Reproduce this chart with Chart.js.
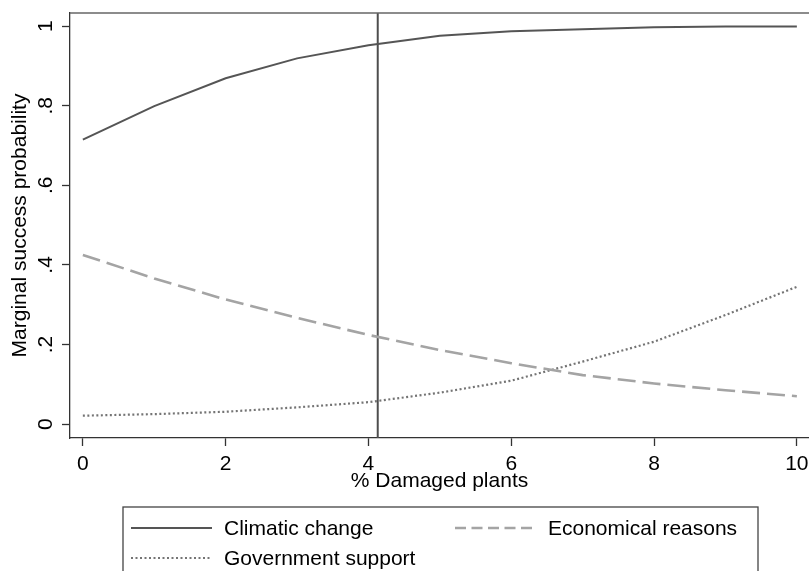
<!DOCTYPE html>
<html><head><meta charset="utf-8">
<script src="https://cdn.jsdelivr.net/npm/chart.js@4/dist/chart.umd.min.js"></script>
<style>html,body{margin:0;padding:0;background:#fff}canvas{display:block}</style>
</head><body>
<canvas id="c" width="809" height="571"></canvas>
<script>
// ---- data ----
const xValues = [0, 1, 2, 3, 4, 5, 6, 7, 8, 9, 10];
const seriesNames = ['Climatic change', 'Economical reasons', 'Government support'];
const climatic   = [0.715, 0.799, 0.869, 0.919, 0.952, 0.976, 0.987, 0.992, 0.997, 0.999, 0.999];
const economical = [0.425, 0.366, 0.313, 0.267, 0.224, 0.186, 0.153, 0.123, 0.102, 0.085, 0.070];
const government = [0.021, 0.025, 0.031, 0.042, 0.055, 0.079, 0.109, 0.157, 0.207, 0.274, 0.345];
const refLineX = 4.13;
const xTicks = [0, 2, 4, 6, 8, 10];
const xTickLabels = ['0', '2', '4', '6', '8', '10'];
const yTicks = [0, 0.2, 0.4, 0.6, 0.8, 1];
const yTickLabels = ['0', '.2', '.4', '.6', '.8', '1'];
const xTitle = '% Damaged plants';
const yTitle = 'Marginal success probability';

// ---- chart ----
const X_MIN = -0.18, X_MAX = 10.17, Y_MIN = -0.035, Y_MAX = 1.033;
const FONT = "'Liberation Sans', Arial, Helvetica, sans-serif";
const toPts = arr => xValues.map((x, i) => ({x: x, y: arr[i]}));

const base = {pointRadius: 0, pointHoverRadius: 0, tension: 0, fill: false};
const datasets = [
  Object.assign({label: seriesNames[0], data: toPts(climatic), borderColor: '#555555', borderWidth: 2}, base),
  Object.assign({label: seriesNames[1], data: toPts(economical), borderColor: '#a4a4a4', borderWidth: 2.6, borderDash: [18, 7], legendDash: [11, 5.5]}, base),
  Object.assign({label: seriesNames[2], data: toPts(government), borderColor: '#747474', borderWidth: 2.2, borderDash: [2, 2.5]}, base),
  Object.assign({label: '', refLine: true, data: [{x: refLineX, y: Y_MIN}, {x: refLineX, y: Y_MAX}], borderColor: '#4e4e4e', borderWidth: 2}, base)
];

const frameAndLegend = {
  id: 'frameAndLegend',
  afterDraw(chart) {
    const ctx = chart.ctx, ca = chart.chartArea;
    ctx.save();
    // top frame line of plot region
    ctx.strokeStyle = '#666666';
    ctx.lineWidth = 1.3;
    ctx.beginPath();
    ctx.moveTo(ca.left, ca.top);
    ctx.lineTo(ca.right, ca.top);
    ctx.stroke();
    // legend box
    const box = {left: 123, top: 507, right: 758, bottom: 590};
    ctx.strokeStyle = '#444444';
    ctx.lineWidth = 1.3;
    ctx.strokeRect(box.left, box.top, box.right - box.left, box.bottom - box.top);
    const colX = [131, 455], rowY = [528, 558], sampleLen = 81, textGap = 12;
    ctx.font = '21px ' + FONT;
    ctx.textBaseline = 'middle';
    ctx.textAlign = 'left';
    let k = 0;
    chart.data.datasets.forEach(ds => {
      if (ds.refLine) return;
      const cx = colX[k % 2], cy = rowY[Math.floor(k / 2)];
      ctx.strokeStyle = ds.borderColor;
      ctx.lineWidth = ds.borderWidth;
      ctx.setLineDash(ds.legendDash || ds.borderDash || []);
      ctx.beginPath();
      ctx.moveTo(cx, cy);
      ctx.lineTo(cx + sampleLen, cy);
      ctx.stroke();
      ctx.setLineDash([]);
      ctx.fillStyle = '#000000';
      ctx.fillText(ds.label, cx + sampleLen + textGap, cy + 1);
      k++;
    });
    ctx.restore();
  }
};

new Chart(document.getElementById('c'), {
  type: 'line',
  data: {datasets: datasets},
  plugins: [frameAndLegend],
  options: {
    responsive: false,
    animation: false,
    events: [],
    layout: {padding: {top: 13, right: 0, bottom: 73, left: 0}},
    plugins: {legend: {display: false}, tooltip: {enabled: false}},
    scales: {
      x: {
        type: 'linear', min: X_MIN, max: X_MAX,
        afterBuildTicks: s => { s.ticks = xTicks.map(v => ({value: v})); },
        afterFit: s => { s.height = 60; s.paddingLeft = 0; s.paddingRight = 0; },
        ticks: {font: {family: FONT, size: 21}, color: '#000', padding: 6, maxRotation: 0, autoSkip: false,
                callback: (v, i) => xTickLabels[i]},
        grid: {drawOnChartArea: false, drawTicks: true, tickLength: 8, tickColor: '#333', tickWidth: 1.3},
        border: {display: true, color: '#333', width: 1.3},
        title: {display: true, text: xTitle, color: '#000', font: {family: FONT, size: 21}, padding: {top: 0, bottom: 4}}
      },
      y: {
        type: 'linear', min: Y_MIN, max: Y_MAX,
        afterBuildTicks: s => { s.ticks = yTicks.map(v => ({value: v})); },
        afterFit: s => { s.width = 70; s.paddingTop = 0; s.paddingBottom = 0; },
        ticks: {font: {family: FONT, size: 21}, color: '#000', padding: 7, minRotation: 90, maxRotation: 90,
                crossAlign: 'center', autoSkip: false, callback: (v, i) => yTickLabels[i]},
        grid: {drawOnChartArea: false, drawTicks: true, tickLength: 8, tickColor: '#333', tickWidth: 1.3},
        border: {display: true, color: '#333', width: 1.3},
        title: {display: true, text: yTitle, color: '#000', font: {family: FONT, size: 21}, padding: {top: 8, bottom: 0}}
      }
    }
  }
});
</script>
</body></html>
